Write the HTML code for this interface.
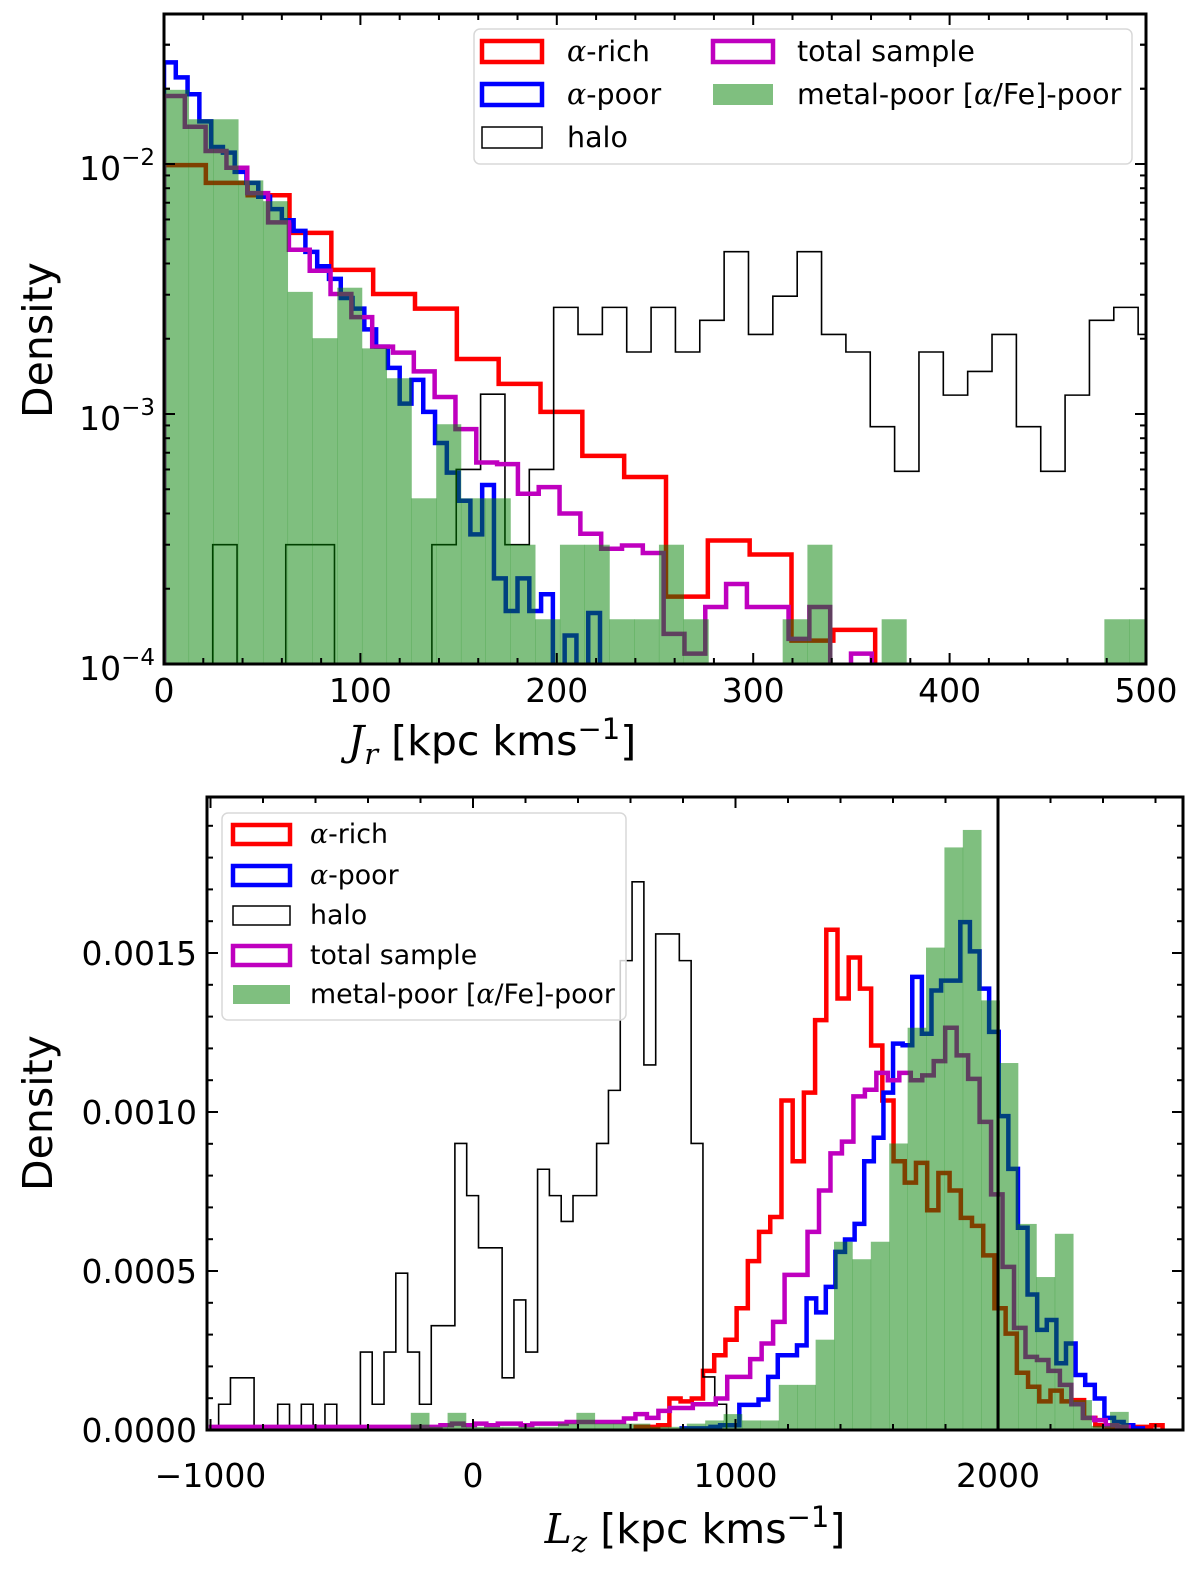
<!DOCTYPE html>
<html><head><meta charset="utf-8"><style>
html,body{margin:0;padding:0;background:#fff}
svg{display:block;font-family:"DejaVu Sans","Liberation Sans",sans-serif}
</style></head><body>
<svg id="fig" width="1200" height="1570" viewBox="0 0 1200 1570" xmlns="http://www.w3.org/2000/svg">
<defs>
<clipPath id="clipTop"><rect x="164" y="14" width="982" height="650"/></clipPath>
<clipPath id="clipBot"><rect x="207" y="797" width="976" height="633"/></clipPath>
</defs>
<g id="topMarks" clip-path="url(#clipTop)"></g>
<g id="botMarks" clip-path="url(#clipBot)"></g>
<g id="axesG"></g>

<!-- top legend -->
<g>
<rect x="474" y="29" width="658" height="135" rx="6" fill="#fff" fill-opacity="0.8" stroke="#d8d8d8" stroke-width="1.5"/>
<rect x="482" y="41" width="60" height="21" fill="none" stroke="red" stroke-width="4.5"/>
<text x="567" y="61" font-size="28.5"><tspan font-family="DejaVu Serif" font-style="italic">α</tspan>-rich</text>
<rect x="482" y="84" width="60" height="21" fill="none" stroke="blue" stroke-width="4.5"/>
<text x="567" y="104" font-size="28.5"><tspan font-family="DejaVu Serif" font-style="italic">α</tspan>-poor</text>
<rect x="482" y="127" width="60" height="21" fill="none" stroke="black" stroke-width="1.5"/>
<text x="567" y="147" font-size="28.5">halo</text>
<rect x="713" y="41" width="60" height="21" fill="none" stroke="#bf00bf" stroke-width="4.5"/>
<text x="797" y="61" font-size="28.5">total sample</text>
<rect x="713" y="84" width="60" height="21" fill="green" fill-opacity="0.5"/>
<text x="797" y="104" font-size="28.5">metal-poor [<tspan font-family="DejaVu Serif" font-style="italic">α</tspan>/Fe]-poor</text>
</g>

<!-- bottom legend -->
<g>
<rect x="222" y="813" width="404" height="207" rx="6" fill="#fff" fill-opacity="0.8" stroke="#d8d8d8" stroke-width="1.5"/>
<rect x="233" y="825" width="57" height="19" fill="none" stroke="red" stroke-width="4.5"/>
<text x="310" y="843" font-size="26.8"><tspan font-family="DejaVu Serif" font-style="italic">α</tspan>-rich</text>
<rect x="233" y="866" width="57" height="19" fill="none" stroke="blue" stroke-width="4.5"/>
<text x="310" y="884" font-size="26.8"><tspan font-family="DejaVu Serif" font-style="italic">α</tspan>-poor</text>
<rect x="233" y="906" width="57" height="19" fill="none" stroke="black" stroke-width="1.5"/>
<text x="310" y="924" font-size="26.8">halo</text>
<rect x="233" y="946" width="57" height="19" fill="none" stroke="#bf00bf" stroke-width="4.5"/>
<text x="310" y="964" font-size="26.8">total sample</text>
<rect x="233" y="985" width="57" height="19" fill="green" fill-opacity="0.5"/>
<text x="310" y="1003" font-size="26.8">metal-poor [<tspan font-family="DejaVu Serif" font-style="italic">α</tspan>/Fe]-poor</text>
</g>

<!-- axis titles -->
<text transform="translate(52,340) rotate(-90)" text-anchor="middle" font-size="41">Density</text>
<text x="492" y="755" text-anchor="middle" font-size="41"><tspan font-family="DejaVu Serif" font-style="italic">J</tspan><tspan font-family="DejaVu Serif" font-style="italic" font-size="29" dy="9">r</tspan><tspan dy="-9"> [kpc kms</tspan><tspan font-size="29" dy="-16">−1</tspan><tspan dy="16">]</tspan></text>
<text transform="translate(52,1113) rotate(-90)" text-anchor="middle" font-size="41">Density</text>
<text x="695" y="1543" text-anchor="middle" font-size="41"><tspan font-family="DejaVu Serif" font-style="italic">L</tspan><tspan font-family="DejaVu Serif" font-style="italic" font-size="29" dy="9">z</tspan><tspan dy="-9"> [kpc kms</tspan><tspan font-size="29" dy="-16">−1</tspan><tspan dy="16">]</tspan></text>
</svg>
<script>
// ===== Top panel data (Jr) =====
const jrHaloStart = 0, jrHaloWidth = 12.4;
const jrHalo = [0,0,3e-4,0,0,3e-4,3e-4,0,0,0,0,3e-4,6e-4,1.2e-3,3e-4,6e-4,2.67e-3,2.08e-3,2.67e-3,1.77e-3,2.67e-3,1.77e-3,2.37e-3,4.46e-3,2.08e-3,2.96e-3,4.46e-3,2.08e-3,1.77e-3,8.9e-4,5.9e-4,1.77e-3,1.19e-3,1.48e-3,2.08e-3,8.9e-4,5.9e-4,1.19e-3,2.37e-3,2.67e-3,2.08e-3];
const jrRichStart = 0, jrRichWidth = 21.3;
const jrRich = [9.9e-3,8.4e-3,7.5e-3,5.3e-3,3.77e-3,3.02e-3,2.64e-3,1.66e-3,1.32e-3,1.02e-3,6.8e-4,5.6e-4,1.86e-4,3.12e-4,2.74e-4,1.24e-4,1.37e-4];
const jrPoorStart = 0, jrPoorWidth = 6.0;
const jrPoor = [0.0255,0.0222,0.019,0.0148,0.0117,0.0111,9.3e-3,8.4e-3,7.4e-3,6.6e-3,5.96e-3,5.4e-3,4.45e-3,3.9e-3,3.47e-3,2.91e-3,2.64e-3,2.18e-3,1.86e-3,1.53e-3,1.1e-3,1.37e-3,1.02e-3,7.66e-4,5.83e-4,4.5e-4,3.3e-4,5.2e-4,2.2e-4,1.63e-4,2.2e-4,1.63e-4,1.9e-4,0,1.3e-4,0,1.6e-4];
const jrTotalStart = 0, jrTotalWidth = 10.6;
const jrTotal = [0.0187,0.0141,0.01127,9.66e-3,7.65e-3,5.84e-3,4.54e-3,3.74e-3,3.02e-3,2.44e-3,1.86e-3,1.76e-3,1.48e-3,1.17e-3,8.7e-4,6.4e-4,6.3e-4,4.8e-4,5.1e-4,4.0e-4,3.32e-4,2.89e-4,2.98e-4,2.78e-4,1.32e-4,1.1e-4,1.69e-4,2.09e-4,1.69e-4,1.69e-4,1.26e-4,1.69e-4,0,1.1e-4];
const jrMpStart = 0, jrMpWidth = 12.6;
const jrMp = [0.0198,0.0151,0.0151,8.6e-3,7.1e-3,3.08e-3,2.01e-3,3.2e-3,1.83e-3,1.39e-3,4.6e-4,9.1e-4,4.6e-4,4.6e-4,3e-4,1.51e-4,3e-4,3e-4,1.51e-4,1.51e-4,3e-4,1.51e-4,0,0,0,1.51e-4,3e-4,0,0,1.51e-4,0,0,0,0,0,0,0,0,1.51e-4,1.51e-4];
const jrXTicks = [0,100,200,300,400,500];
const jrYTicks = [-4,-3,-2];

// ===== Bottom panel data (Lz) =====
const lzHaloStart = -969, lzHaloWidth = 45;
const lzHalo = [8.1e-5,1.64e-4,1.64e-4,0,0,8.1e-5,0,8.1e-5,0,8.1e-5,0,0,2.45e-4,8.1e-5,2.45e-4,4.93e-4,2.45e-4,8.1e-5,3.28e-4,3.28e-4,9.01e-4,7.37e-4,5.73e-4,5.73e-4,1.64e-4,4.09e-4,2.45e-4,8.2e-4,7.37e-4,6.56e-4,7.37e-4,7.37e-4,9.01e-4,1.068e-3,1.476e-3,1.724e-3,1.148e-3,1.56e-3,1.56e-3,1.476e-3,9.01e-4,1.67e-4,8.1e-5];
const lzRichStart = 620, lzRichWidth = 42.7;
const lzRich = [1e-5,1e-5,1.5e-5,9.9e-5,9e-5,9.9e-5,1.86e-4,2.35e-4,2.84e-4,3.83e-4,5.31e-4,6.23e-4,6.70e-4,1.036e-3,8.45e-4,1.061e-3,1.289e-3,1.573e-3,1.357e-3,1.486e-3,1.388e-3,1.209e-3,1.036e-3,8.45e-4,7.78e-4,8.4e-4,6.91e-4,8.08e-4,7.53e-4,6.67e-4,6.42e-4,5.49e-4,3.83e-4,3.03e-4,1.8e-4,1.36e-4,9e-5,1.24e-4,9e-5,9.4e-5,3.8e-5,1.5e-5,1e-5,1e-5,1e-5,1e-5,1.5e-5];
const lzPoorStart = 795, lzPoorWidth = 36.6;
const lzPoor = [5e-6,5e-6,5e-6,1e-5,1.5e-5,1.5e-5,7.9e-5,7.9e-5,9.6e-5,1.67e-4,2.35e-4,2.35e-4,2.66e-4,4.14e-4,3.7e-4,4.5e-4,5.6e-4,5.99e-4,6.48e-4,8.45e-4,9.19e-4,1.061e-3,1.215e-3,1.21e-3,1.425e-3,1.246e-3,1.382e-3,1.413e-3,1.413e-3,1.597e-3,1.505e-3,1.388e-3,1.252e-3,9.87e-4,8.21e-4,6.36e-4,4.26e-4,3.15e-4,3.46e-4,2.1e-4,2.72e-4,1.73e-4,1.42e-4,9.9e-5,3.8e-5,2.5e-5,1.5e-5,5e-6];
const lzTotalStart = -998, lzTotalWidth = 43.7;
const lzTotal = [1e-5,1e-5,1e-5,1e-5,1e-5,1e-5,1e-5,1e-5,1e-5,1e-5,1e-5,1e-5,1e-5,1e-5,1e-5,1e-5,1e-5,1e-5,1e-5,1e-5,1.5e-5,2e-5,1.5e-5,2e-5,1.5e-5,2e-5,2e-5,1.5e-5,2e-5,2e-5,2e-5,2.5e-5,2.5e-5,2.5e-5,2.5e-5,2.5e-5,3.6e-5,5e-5,3.8e-5,6e-5,6.9e-5,6.9e-5,8.1e-5,8.1e-5,9.9e-5,1.67e-4,1.67e-4,2.23e-4,2.72e-4,3.4e-4,4.88e-4,4.88e-4,6.23e-4,7.53e-4,8.7e-4,9.07e-4,1.049e-3,1.07e-3,1.123e-3,1.10e-3,1.123e-3,1.10e-3,1.115e-3,1.16e-3,1.265e-3,1.178e-3,1.104e-3,9.69e-4,7.41e-4,5.13e-4,3.21e-4,2.3e-4,2.2e-4,1.86e-4,1.42e-4,8.1e-5,3.8e-5,3.1e-5,1.5e-5,1e-5];
const lzMpStart = -237, lzMpWidth = 70.1;
const lzMp = [5.4e-5,1e-5,5.4e-5,1e-5,1e-5,1e-5,1e-5,1e-5,2e-5,5.4e-5,2e-5,2e-5,2e-5,1e-5,1e-5,2e-5,3e-5,5e-5,3e-5,3e-5,1.42e-4,1.42e-4,2.84e-4,5.92e-4,5.37e-4,5.92e-4,9.01e-4,1.265e-3,1.517e-3,1.832e-3,1.887e-3,1.351e-3,1.154e-3,6.48e-4,4.81e-4,6.17e-4,9.4e-5,1.3e-5,5.7e-5];
const lzSolarLine = 2000;
const lzXTicks = [-1000,0,1000,2000];
const lzYTicks = [0,0.0005,0.0010,0.0015];
const lzYTickLabels = ["0.0000","0.0005","0.0010","0.0015"];

const NS = "http://www.w3.org/2000/svg";
function mk(tag, attrs, parent){ const e=document.createElementNS(NS,tag); for(const k in attrs) e.setAttribute(k,attrs[k]); parent.appendChild(e); return e; }

const tX = v => 164 + v*1.964;
const tY = d => d>0 ? 664 - 250*(Math.log10(d)+4) : 700;
const bX = v => 473 + v*0.2625;
const bY = d => 1430 - d*318000;

function stepPath(start,w,vals,X,Y,base){
  let d = "M"+X(start)+","+base;
  vals.forEach((v,i)=>{ const y=Y(v); d += "L"+X(start+i*w)+","+y+"L"+X(start+(i+1)*w)+","+y; });
  d += "L"+X(start+vals.length*w)+","+base;
  return d;
}
function drawStep(parent,name,start,w,vals,X,Y,base,color,lw){
  const p = mk("path",{d:stepPath(start,w,vals,X,Y,base),fill:"none",stroke:color,"stroke-width":lw,"stroke-linejoin":"miter"},parent);
  
  
}
function drawBars(parent,name,start,w,vals,X,Y,base){
  const g = mk("g",{},parent);
  
  
  vals.forEach((v,i)=>{
    if(!(v>0)) return;
    const x0=X(start+i*w), x1=X(start+(i+1)*w), y=Y(v);
    const r = mk("rect",{x:x0,y:y,width:x1-x0+0.3,height:base-y,fill:"green","fill-opacity":0.5},g);
    
    
  });
}

const topG = document.getElementById("topMarks");
drawStep(topG,"alpha-rich-jr",jrRichStart,jrRichWidth,jrRich,tX,tY,700,"red",4.5);
drawStep(topG,"alpha-poor-jr",jrPoorStart,jrPoorWidth,jrPoor,tX,tY,700,"blue",4.5);
drawStep(topG,"halo-jr",jrHaloStart,jrHaloWidth,jrHalo,tX,tY,700,"black",1.6);
drawStep(topG,"total-sample-jr",jrTotalStart,jrTotalWidth,jrTotal,tX,tY,700,"#bf00bf",4.5);
drawBars(topG,"metal-poor-jr",jrMpStart,jrMpWidth,jrMp,tX,tY,700);

const botG = document.getElementById("botMarks");
drawStep(botG,"alpha-rich-lz",lzRichStart,lzRichWidth,lzRich,bX,bY,1430,"red",4.5);
drawStep(botG,"alpha-poor-lz",lzPoorStart,lzPoorWidth,lzPoor,bX,bY,1430,"blue",4.5);
drawStep(botG,"halo-lz",lzHaloStart,lzHaloWidth,lzHalo,bX,bY,1430,"black",1.6);
drawStep(botG,"total-sample-lz",lzTotalStart,lzTotalWidth,lzTotal,bX,bY,1430,"#bf00bf",4.5);
drawBars(botG,"metal-poor-lz",lzMpStart,lzMpWidth,lzMp,bX,bY,1430);
const vl = mk("line",{x1:bX(lzSolarLine),x2:bX(lzSolarLine),y1:797,y2:1430,stroke:"black","stroke-width":3},botG);



const ax = document.getElementById("axesG");
function tick(x1,y1,x2,y2,w){ const l=mk("line",{x1,y1,x2,y2,stroke:"black","stroke-width":w},ax);
  
   }
function label(x,y,txt,anchor,name){ const t=mk("text",{x,y,"text-anchor":anchor,"font-size":33},ax); t.textContent=txt;
  
   return t; }

const f1 = mk("rect",{x:164,y:14,width:982,height:650,fill:"none",stroke:"black","stroke-width":3},ax);


for(let v=0; v<=500; v+=20){ const x=tX(v); const maj = v%100===0; const L = maj?11:6;
  tick(x,664,x,664-L,2); tick(x,14,x,14+L,2); }
jrXTicks.forEach(v=>label(tX(v),702,String(v),"middle","top-x-tick-label"));
for(let e=-4; e<-1; e++){ for(let m=1;m<10;m++){ const d=m*Math.pow(10,e); const y=tY(d); if(y<14) continue; const L=m===1?11:6;
  tick(164,y,164+L,y,2); tick(1146,y,1146-L,y,2); } }
for(let m=1;m<=3;m++){ const y=tY(m*0.01); if(y>=14){ const L=m===1?11:6; tick(164,y,164+L,y,2); tick(1146,y,1146-L,y,2);} }
jrYTicks.forEach(e=>{ const t=mk("text",{x:155,y:tY(Math.pow(10,e))+16,"text-anchor":"end","font-size":33},ax);
  
  
  t.appendChild(document.createTextNode("10"));
  const s=mk("tspan",{dy:-15,"font-size":23},t); s.textContent="−"+Math.abs(e); });

const f2 = mk("rect",{x:207,y:797,width:976,height:633,fill:"none",stroke:"black","stroke-width":3},ax);


for(let v=-1000; v<=2700; v+=200){ const x=bX(v); if(x<207||x>1183) continue; const maj=v%1000===0; const L=maj?11:6;
  tick(x,1430,x,1430-L,2); tick(x,797,x,797+L,2); }
lzXTicks.forEach(v=>label(bX(v),1487,v<0?"−"+Math.abs(v):String(v),"middle","bottom-x-tick-label"));
for(let i=0;i<=19;i++){ const d=i*0.0001; const y=bY(d); const maj=i%5===0; const L=maj?11:6;
  tick(207,y,207+L,y,2); tick(1183,y,1183-L,y,2); }
lzYTicks.forEach((v,i)=>label(197,bY(v)+12,lzYTickLabels[i],"end","bottom-y-tick-label"));
</script>
</body></html>
